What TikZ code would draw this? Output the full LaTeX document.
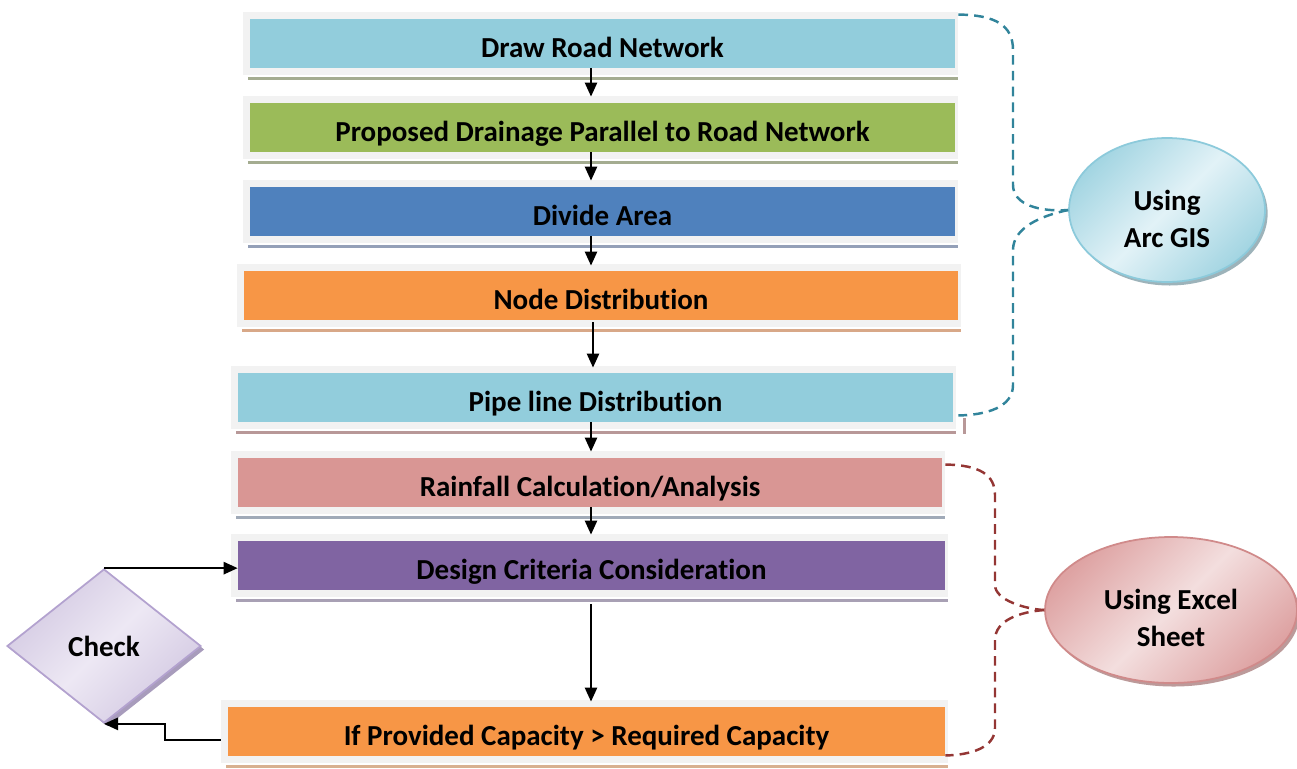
\documentclass[tikz,border=0pt]{standalone}
\usepackage{fontspec}
\setmainfont{Carlito}[Ligatures=NoCommon]
\usetikzlibrary{shapes.geometric,arrows.meta,calc,shadows}

\definecolor{cCyan}{HTML}{92CDDC}
\definecolor{cGreen}{HTML}{9BBB59}
\definecolor{cBlue}{HTML}{4F81BD}
\definecolor{cOrange}{HTML}{F79646}
\definecolor{cRose}{HTML}{D99694}
\definecolor{cPurple}{HTML}{8064A2}
\definecolor{frameGray}{HTML}{F2F2F2}
\definecolor{shOlive}{HTML}{A4AC90}
\definecolor{shSteel}{HTML}{94A0B8}
\definecolor{shTan}{HTML}{D8A888}
\definecolor{shMauve}{HTML}{B89898}
\definecolor{shSlate}{HTML}{A0AAB8}
\definecolor{shLilac}{HTML}{A8A0B4}
\definecolor{shSand}{HTML}{D8B090}
\definecolor{gisDark}{HTML}{A3D5E2}
\definecolor{gisLight}{HTML}{E2F2F7}
\definecolor{gisEdge}{HTML}{8CCADB}
\definecolor{gisShadow}{HTML}{9DB3BA}
\definecolor{xlDark}{HTML}{DEA3A3}
\definecolor{xlLight}{HTML}{F3DEDE}
\definecolor{xlEdge}{HTML}{D08A8A}
\definecolor{xlShadow}{HTML}{BC9A9A}
\definecolor{ckDark}{HTML}{D3C9E2}
\definecolor{ckLight}{HTML}{EDE8F4}
\definecolor{ckEdge}{HTML}{B3A2CF}
\definecolor{ckShadow}{HTML}{A89CBC}
\definecolor{tealDash}{HTML}{31849B}
\definecolor{redDash}{HTML}{943634}

% framed process box: name, centre x, centre y, width, fill, shadow line colour, text
\newcommand\flowbox[7]{%
  \fill[boxframe] (#2-#4/2-7,#3-31.5) rectangle (#2+#4/2+3,#3+31.5);
  \fill[#6] (#2-#4/2-2,#3+33) rectangle (#2+#4/2+3,#3+36);
  \node[flow, fill=#5, minimum width=#4*0.02cm] (#1) at (#2,#3) {#7};
}

\begin{document}
\begin{tikzpicture}[x=0.02cm, y=-0.02cm,
  labelfont/.style={font=\bfseries\fontsize{16.5}{20}\selectfont},
  flow/.style={rectangle, inner sep=0pt, minimum height=28pt,
    text height=22.2pt, text depth=5.8pt, labelfont},
  boxframe/.style={fill=frameGray},
  arr/.style={line width=1.1pt, -{Triangle[length=8pt,width=7pt]}},
  notetext/.style={labelfont, align=center},
  gisnote/.style={ellipse, draw=gisEdge, line width=1pt,
    left color=gisDark, right color=gisDark, middle color=gisLight,
    shading angle=45, minimum width=3.92cm, minimum height=2.88cm,
    inner sep=0pt,
    drop shadow={shadow xshift=1.5pt, shadow yshift=-2pt, fill=gisShadow, opacity=1}},
  xlnote/.style={ellipse, draw=xlEdge, line width=1pt,
    left color=xlDark, right color=xlDark, middle color=xlLight,
    shading angle=45, minimum width=5.04cm, minimum height=2.92cm,
    inner sep=0pt,
    drop shadow={shadow xshift=1.5pt, shadow yshift=-2pt, fill=xlShadow, opacity=1}},
  checknode/.style={diamond, draw=ckEdge, line width=1pt,
    left color=ckDark, right color=ckDark, middle color=ckLight,
    shading angle=45, minimum width=3.88cm, minimum height=3.08cm,
    inner sep=0pt, labelfont,
    drop shadow={shadow xshift=2pt, shadow yshift=-2pt, fill=ckShadow, opacity=1}},
  gisline/.style={draw=tealDash, line width=1.4pt, dash pattern=on 5.5pt off 3.5pt},
  xlline/.style={draw=redDash, line width=1.4pt, dash pattern=on 5.5pt off 3.5pt}]

\useasboundingbox (0,0) rectangle (1297,768);

% process boxes
\flowbox{b1}{602.5}{43.5}{705}{cCyan}{shOlive}{Draw Road Network}
\flowbox{b2}{602.5}{127.5}{705}{cGreen}{shOlive}{Proposed Drainage Parallel to Road Network}
\flowbox{b3}{602.5}{211.5}{705}{cBlue}{shSteel}{Divide Area}
\flowbox{b4}{601}{295.5}{714}{cOrange}{shTan}{Node Distribution}
\flowbox{b5}{595.5}{397.5}{715}{cCyan}{shMauve}{Pipe line Distribution}
\fill[shMauve] (963,418) rectangle (966,434);
\flowbox{b6}{590}{482.5}{704}{cRose}{shSlate}{Rainfall Calculation/Analysis}
\flowbox{b7}{591.5}{565.5}{707}{cPurple}{shLilac}{Design Criteria Consideration}
\flowbox{b8}{586.5}{731.5}{717}{cOrange}{shSand}{If Provided Capacity > Required Capacity}

% decision and notes
\node[checknode] (check) at (104,646) {Check};
\node[gisnote, label={[notetext, yshift=-5pt]center:Using\\[1pt]Arc GIS}] (gis) at (1167,210) {};
\node[xlnote, label={[notetext, yshift=-4.5pt]center:Using Excel\\[1pt]Sheet}] (xl) at (1171,610) {};

% main flow
\coordinate (ax) at (591,0);
\draw[arr] (b1.south -| ax) -- ($(b2.north -| ax)+(0,-6)$);
\draw[arr] (b2.south -| ax) -- ($(b3.north -| ax)+(0,-6)$);
\draw[arr] (b3.south -| ax) -- ($(b4.north -| ax)+(0,-5)$);
\draw[arr] ($(b4.south -| ax)+(2,2)$) -- ($(b5.north -| ax)+(2,-5)$);
\draw[arr] (b5.south -| ax) -- ($(b6.north -| ax)+(0,-6)$);
\draw[arr] (b6.south -| ax) -- ($(b7.north -| ax)+(0,-6)$);
\draw[arr] ($(b7.south -| ax)+(0,14)$) -- ($(b8.north -| ax)+(0,-5)$);

% feedback loop through the check
\draw[arr] (check.north) -- (check.north -| b7.west);
\draw[arr] ($(b8.west)+(-7,8.5)$) -- ++(-56,0) |- (check.south);

% grouping brackets
\coordinate (g1) at ($(b1.north east)+(3,-4)$);
\coordinate (g2) at ($(b5.south east)+(5,-7)$);
\draw[gisline] (g1) .. controls (995,15) and (1013,25) .. (1013,50)
  -- (1013,185) .. controls (1013,205) and (1040,212) .. (gis.west);
\draw[gisline] (gis.west) .. controls (1040,216) and (1013,228) .. (1013,250)
  -- (1013,385) .. controls (1013,408) and (985,415) .. (g2);

\coordinate (e1) at ($(b6.north east)+(3,7)$);
\coordinate (e2) at ($(b8.south east)+(0,-1)$);
\draw[xlline] (e1) .. controls (980,465) and (995,475) .. (995,495)
  -- (995,585) .. controls (995,600) and (1025,609) .. (xl.west);
\draw[xlline] (xl.west) .. controls (1020,612) and (995,620) .. (995,640)
  -- (995,728) .. controls (995,748) and (970,755) .. (e2);
\end{tikzpicture}
\end{document}
